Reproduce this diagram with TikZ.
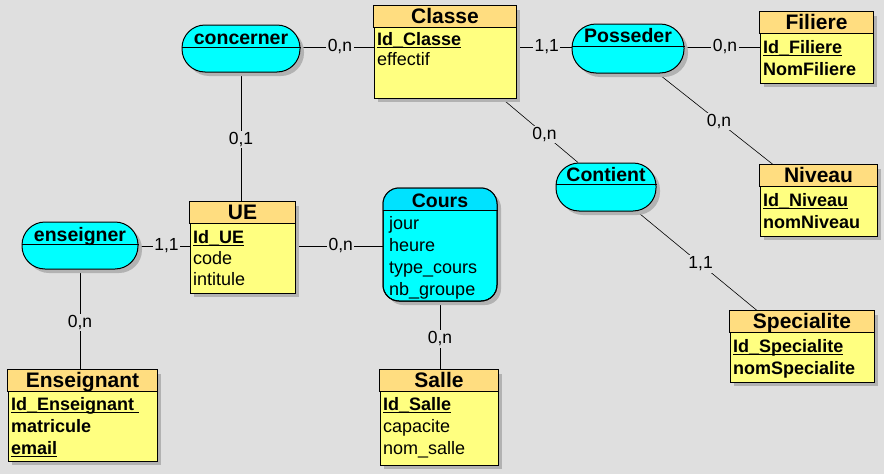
\documentclass[tikz,border=0pt]{standalone}
\usepackage{fontspec}
\setmainfont{Liberation Sans}
\usetikzlibrary{fit,shadows,calc}
\pgfdeclarelayer{background}
\pgfsetlayers{background,main}
\definecolor{bg}{RGB}{223,223,223}
\definecolor{entbody}{RGB}{255,255,128}
\definecolor{enthead}{RGB}{255,221,128}
\definecolor{relbody}{RGB}{0,255,255}
\definecolor{relhead}{RGB}{0,226,255}
\definecolor{shadowc}{RGB}{178,178,178}
\tikzset{
 shad/.style={drop shadow={shadow xshift=4pt,shadow yshift=-4pt,opacity=1,fill=shadowc}},
 entity/.style={inner sep=0pt,draw,line width=1pt,fill=entbody,shad},
 relation/.style={inner sep=0pt,draw,line width=1pt,fill=relbody,shad},
 ttl/.style={anchor=base,inner sep=0pt,font=\fontsize{21}{24}\selectfont\bfseries},
 rttl/.style={anchor=base,inner sep=0pt,font=\fontsize{19.5}{22}\selectfont\bfseries},
 attr/.style={anchor=base west,inner sep=0pt,font=\fontsize{18}{21}\selectfont},
 card/.style={fill=bg,inner sep=1.5pt,font=\fontsize{17.5}{20}\selectfont},
 link/.style={line width=1pt},
 dlink/.style={line width=0.6pt},
}
\newcommand\entity[6]{%
 \node[entity,fit={(#2,#3) (#4,#5)}] (#1) {};
 \filldraw[fill=enthead,line width=1pt] (#1.north west) rectangle ([yshift=-22pt]#1.north east);
 \node[ttl] at ([yshift=-18pt]#1.north) {#6};
}
\newcommand\idattr[1]{\setbox0=\hbox{\textbf{#1}}\leavevmode\rlap{\rule[-3.2pt]{\wd0}{1.3pt}}\box0}
\begin{document}
\begin{tikzpicture}[x=1pt,y=-1pt]
\begin{pgfonlayer}{background}
\fill[bg] (0,0) rectangle (884,474);
\end{pgfonlayer}
\useasboundingbox (0,0) rectangle (884,474);

% ---------- entities ----------
\entity{classe}{374}{6}{516}{98}{Classe}
\node[attr] at (377,45) {\idattr{Id\_Classe}};
\node[attr] at (377,65) {effectif};

\entity{filiere}{760}{12}{873}{83}{Filiere}
\node[attr] at (763,53) {\idattr{Id\_Filiere}};
\node[attr] at (763,75) {\textbf{NomFiliere}};

\entity{niveau}{760}{165}{877}{236}{Niveau}
\node[attr] at (763,206) {\idattr{Id\_Niveau}};
\node[attr] at (763,228) {\textbf{nomNiveau}};

\entity{specialite}{730}{311}{874}{382}{Specialite}
\node[attr] at (733,352) {\idattr{Id\_Specialite}};
\node[attr] at (733,374) {\textbf{nomSpecialite}};

\entity{ue}{190}{202}{295}{293}{UE}
\node[attr] at (193,243) {\idattr{Id\_UE}};
\node[attr] at (193,264) {code};
\node[attr] at (193,285) {intitule};

\entity{salle}{380}{370}{498}{465}{Salle}
\node[attr] at (383,410) {\idattr{Id\_Salle}};
\node[attr] at (383,432) {capacite};
\node[attr] at (383,454) {nom\_salle};

\entity{enseignant}{8}{370}{157}{461}{Enseignant}
\node[attr] at (11,410) {\idattr{Id\_Enseignant~}};
\node[attr] at (11,432) {\textbf{matricule}};
\node[attr] at (11,454) {\idattr{email}};

% ---------- relations ----------
\node[relation,rounded corners=23pt,fit={(182,25) (300,72)}] (concerner) {};
\draw[line width=1pt] (concerner.west |- 0,47) -- (concerner.east |- 0,47);
\node[rttl] at (241,44) {concerner};

\node[relation,rounded corners=24pt,fit={(572,24) (684,73)}] (posseder) {};
\draw[line width=1pt] (posseder.west |- 0,46) -- (posseder.east |- 0,46);
\node[rttl] at (628,42) {Posseder};

\node[relation,rounded corners=23pt,fit={(556,163) (656,211)}] (contient) {};
\draw[line width=1pt] (contient.west |- 0,184) -- (contient.east |- 0,184);
\node[rttl] at (606,181) {Contient};

\node[relation,rounded corners=23pt,fit={(22,222) (138,269)}] (enseigner) {};
\draw[line width=1pt] (enseigner.west |- 0,244) -- (enseigner.east |- 0,244);
\node[rttl] at (80,241) {enseigner};

\node[relation,rounded corners=16pt,fit={(383,188) (497,301)}] (cours) {};
\begin{scope}
\clip[rounded corners=16pt] (383,188) rectangle (497,301);
\fill[relhead] (383,188) rectangle (497,210);
\end{scope}
\draw[line width=1pt,rounded corners=16pt] (383,188) rectangle (497,301);
\draw[line width=1pt] (cours.west |- 0,210) -- (cours.east |- 0,210);
\node[rttl] at (440,207) {Cours};
\node[attr] at (389,229) {jour};
\node[attr] at (389,251) {heure};
\node[attr] at (389,273) {type\_cours};
\node[attr] at (389,295) {nb\_groupe};

% ---------- connectors ----------
\begin{pgfonlayer}{background}
\draw[link] (concerner.east |- 0,47) -- (classe.west |- 0,47) node[card,pos=0.54] {0,n};
\draw[link] (concerner.south) -- (concerner.south |- ue.north) node[card,pos=0.52] {0,1};
\draw[link] (classe.east |- 0,47) -- (posseder.west |- 0,47) node[card,pos=0.55] {1,1};
\draw[link] (posseder.east |- 0,47) -- (filiere.west |- 0,47) node[card,pos=0.54] {0,n};
\draw[dlink] ([xshift=30pt]posseder.south) -- ([xshift=-45.5pt]niveau.north) node[card,pos=0.53] {0,n};
\draw[dlink] ([xshift=57pt]classe.south) -- ([xshift=-28pt]contient.north) node[card,pos=0.56] {0,n};
\draw[dlink] ([xshift=31pt]contient.south) -- ([xshift=-45pt]specialite.north) node[card,pos=0.53] {1,1};
\draw[link] (enseigner.east |- 0,246) -- (ue.west |- 0,246) node[card,pos=0.55] {1,1};
\draw[link] (ue.east |- 0,246) -- (cours.west |- 0,246) node[card,pos=0.52] {0,n};
\draw[link] (enseigner.south) -- (enseigner.south |- enseignant.north) node[card,pos=0.53] {0,n};
\draw[link] (cours.south) -- (cours.south |- salle.north) node[card,pos=0.55] {0,n};
\end{pgfonlayer}
\end{tikzpicture}
\end{document}
